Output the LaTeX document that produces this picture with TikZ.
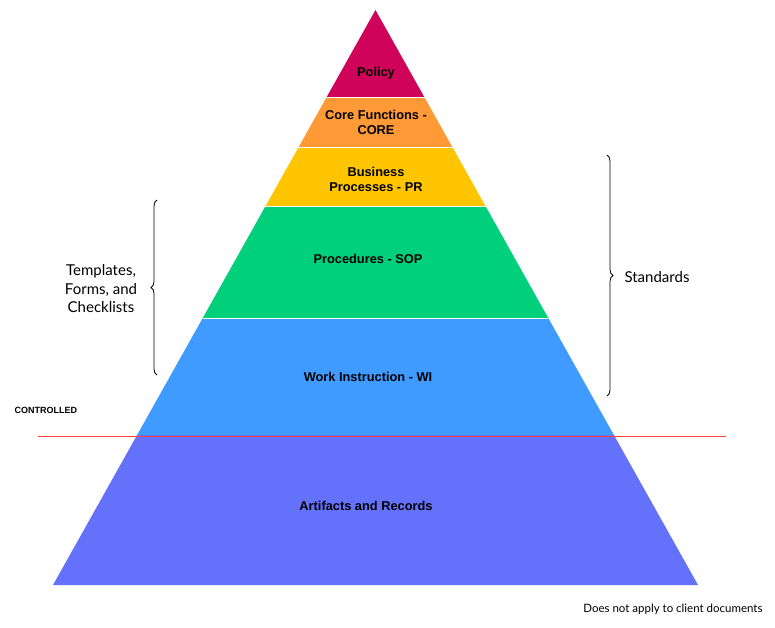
\documentclass[tikz,border=0pt]{standalone}
\usepackage{fontspec}
\setmainfont{Liberation Sans}
\newfontfamily\lato{Lato}
\usetikzlibrary{decorations.pathreplacing}
\definecolor{cpol}{HTML}{D0035A}
\definecolor{ccore}{HTML}{FF9A36}
\definecolor{cbus}{HTML}{FFC500}
\definecolor{cproc}{HTML}{00CF7B}
\definecolor{cwi}{HTML}{3F9BFF}
\definecolor{cart}{HTML}{6471FA}
\tikzset{layer/.style={draw=white,line width=1pt},
 lbl/.style={font=\fontsize{12.8}{15}\selectfont\bfseries,align=center,text=black},
 brc/.style={decorate,decoration={brace,amplitude=6pt},line width=0.8pt},
 side/.style={font=\lato\fontsize{15}{18.5}\selectfont,align=center}}
\begin{document}
\begin{tikzpicture}[x=1pt,y=-1pt]
\useasboundingbox (0,0) rectangle (775,628);
\def\hw#1{0.5609*(#1-10)}
\foreach \ya/\yb/\c in {10/98/cpol,98/148/ccore,148/207/cbus,207/318/cproc,318/435/cwi,435/585/cart}{
 \fill[\c] ({375.5-\hw{\ya}},\ya) -- ({375.5+\hw{\ya}},\ya) -- ({375.5+\hw{\yb}},\yb) -- ({375.5-\hw{\yb}},\yb) -- cycle;
}
\foreach \y in {98,148,207,318}{\draw[white,line width=1pt] ({375.5-\hw{\y}},\y) -- ({375.5+\hw{\y}},\y);}
\node[lbl] (pol) at (376,73) {Policy};
\node[lbl] (core) at (376,122) {Core Functions -\\CORE};
\node[lbl] (bus) at (376,179) {Business\\Processes - PR};
\node[lbl] (proc) at (368,259) {Procedures - SOP};
\node[lbl] (wi) at (368,377) {Work Instruction - WI};
\node[lbl] (art) at (366,506) {Artifacts and Records};
\coordinate (r1) at (38,436); \coordinate (r2) at (726,436);
\draw[red!75!white,line width=0.8pt] (r1) -- (r2);
\node[font=\fontsize{9}{11}\selectfont\bfseries,anchor=west] (ctl) at (11,410) {CONTROLLED};
\coordinate (lb1) at (157,375); \coordinate (lb2) at (157,200);
\draw[brc] (lb1) -- (lb2);
\node[side] (tfc) at (101,289) {Templates,\\Forms, and\\Checklists};
\coordinate (rb1) at (607,155); \coordinate (rb2) at (607,396);
\draw[brc] (rb1) -- (rb2);
\node[side,anchor=west] (std) at (621,277) {Standards};
\node[font=\lato\fontsize{11.5}{13}\selectfont,anchor=east] (dn) at (766,609) {Does not apply to client documents};
\end{tikzpicture}
\end{document}
